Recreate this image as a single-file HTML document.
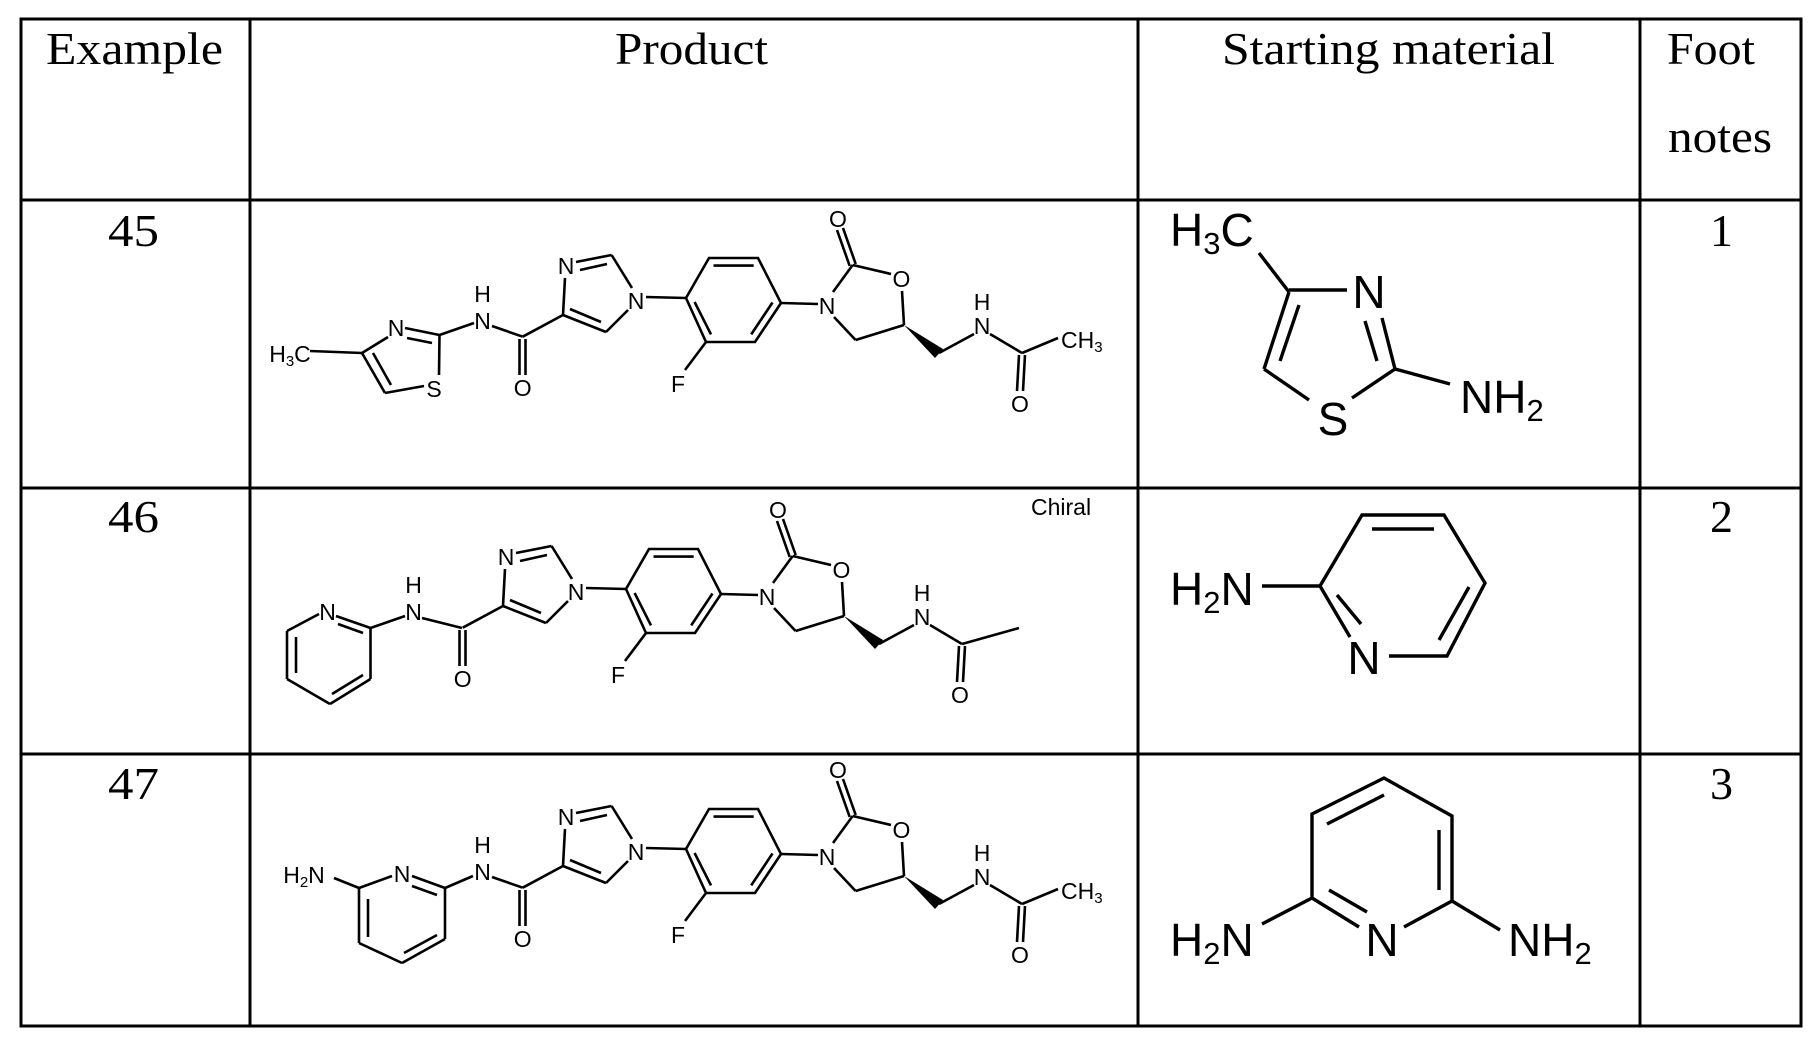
<!DOCTYPE html>
<html><head><meta charset="utf-8"><style>
html,body{margin:0;padding:0;background:#fff;}
svg{display:block;}
.h{font-family:"Liberation Serif",serif;font-size:46px;fill:#000;}
.a{font-family:"Liberation Sans",sans-serif;font-size:23px;fill:#000;text-anchor:middle;}
.s{font-family:"Liberation Sans",sans-serif;font-size:46px;fill:#000;}
.b line,.b polyline{stroke:#000;stroke-width:2.6;fill:none;}
.c line,.c polyline{stroke:#000;stroke-width:3.4;fill:none;}
</style></head><body>
<svg width="1820" height="1046" viewBox="0 0 1820 1046" xmlns="http://www.w3.org/2000/svg">
<rect width="1820" height="1046" fill="#fff"/>
<g stroke="#000" stroke-width="3" fill="none">
<rect x="21" y="19" width="1780" height="1007"/>
<line x1="250" y1="19" x2="250" y2="1026"/>
<line x1="1138" y1="19" x2="1138" y2="1026"/>
<line x1="1640" y1="19" x2="1640" y2="1026"/>
<line x1="21" y1="200" x2="1801" y2="200"/>
<line x1="21" y1="488" x2="1801" y2="488"/>
<line x1="21" y1="754" x2="1801" y2="754"/>
</g>
<text class="h" x="46" y="64" textLength="177" lengthAdjust="spacingAndGlyphs">Example</text>
<text class="h" x="615" y="64" textLength="153" lengthAdjust="spacingAndGlyphs">Product</text>
<text class="h" x="1222" y="64" textLength="333" lengthAdjust="spacingAndGlyphs">Starting material</text>
<text class="h" x="1667" y="64" textLength="88" lengthAdjust="spacingAndGlyphs">Foot</text>
<text class="h" x="1668" y="152" textLength="104" lengthAdjust="spacingAndGlyphs">notes</text>
<text class="h" x="108" y="246" textLength="51" lengthAdjust="spacingAndGlyphs">45</text>
<text class="h" x="108" y="532" textLength="51" lengthAdjust="spacingAndGlyphs">46</text>
<text class="h" x="108" y="799" textLength="51" lengthAdjust="spacingAndGlyphs">47</text>
<text class="h" x="1710" y="246">1</text>
<text class="h" x="1710" y="532">2</text>
<text class="h" x="1710" y="799">3</text>

<defs>
<g id="core">
 <g class="b">
  <line x1="522.7" y1="336.7" x2="563" y2="315"/>
  <line x1="519.5" y1="339" x2="519.5" y2="375"/>
  <line x1="525.5" y1="339" x2="525.5" y2="375"/>
  <line x1="563" y1="315" x2="606" y2="332"/>
  <line x1="570" y1="309" x2="601" y2="322"/>
  <line x1="606" y1="332" x2="628" y2="310"/>
  <line x1="632" y1="288" x2="611.6" y2="255"/>
  <line x1="611.6" y1="255" x2="576" y2="262"/>
  <line x1="607" y1="264" x2="580" y2="270"/>
  <line x1="565" y1="278" x2="563" y2="315"/>
  <line x1="646" y1="297" x2="686" y2="298"/>
  <polyline points="686,298 706,342 755,342 781,303 758,258 709,258 686,298"/>
  <line x1="713.5" y1="265.6" x2="753.7" y2="265.6"/>
  <line x1="694.6" y1="302" x2="711" y2="334.4"/>
  <line x1="751.2" y1="334.4" x2="772.5" y2="302.5"/>
  <line x1="706" y1="342" x2="685" y2="370"/>
  <line x1="781" y1="303" x2="818" y2="304"/>
  <line x1="833" y1="292" x2="852.7" y2="265"/>
  <line x1="849.7" y1="266" x2="837" y2="230"/>
  <line x1="855.7" y1="264" x2="843" y2="228"/>
  <line x1="852.7" y1="265" x2="891" y2="274"/>
  <line x1="902" y1="291" x2="904" y2="325"/>
  <line x1="904" y1="325" x2="855.6" y2="340"/>
  <line x1="855.6" y1="340" x2="834" y2="317"/>
  <line x1="939" y1="353" x2="974" y2="334"/>
  <line x1="990" y1="334" x2="1022" y2="353"/>
  <line x1="1019" y1="355" x2="1017" y2="391"/>
  <line x1="1025" y1="355" x2="1023" y2="391"/>
 </g>
 <polygon points="904,325 935,358 943,349" fill="#000"/>
 <text class="a" x="522.7" y="396">O</text>
 <text class="a" x="636" y="309">N</text>
 <text class="a" x="566" y="274">N</text>
 <text class="a" x="678" y="392">F</text>
 <text class="a" x="827" y="314">N</text>
 <text class="a" x="838" y="227">O</text>
 <text class="a" x="901.5" y="287">O</text>
 <text class="a" x="982" y="334">N</text>
 <text class="a" x="982" y="310">H</text>
 <text class="a" x="1020" y="412">O</text>
</g>
<g id="nh">
 <text class="a" x="482.5" y="329">N</text>
 <text class="a" x="482.5" y="302">H</text>
 <line x1="492" y1="326" x2="522.7" y2="336.7" stroke="#000" stroke-width="2.6"/>
</g>
</defs>

<!-- Row 45 -->
<use href="#core"/>
<use href="#nh"/>
<g class="b">
 <line x1="1022" y1="353" x2="1058" y2="338"/>
 <line x1="310" y1="351" x2="362" y2="353"/>
 <line x1="362" y1="353" x2="388" y2="337"/>
 <line x1="362" y1="353" x2="385" y2="393"/>
 <line x1="373" y1="353" x2="391" y2="385"/>
 <line x1="385" y1="393" x2="424" y2="386"/>
 <line x1="439" y1="375" x2="439.5" y2="335"/>
 <line x1="439.5" y1="335" x2="405" y2="328"/>
 <line x1="432" y1="343" x2="407" y2="338"/>
 <line x1="439.5" y1="335" x2="474" y2="323"/>
</g>
<text class="a" x="396" y="336">N</text>
<text class="a" x="434" y="397">S</text>
<text class="a" x="290" y="362">H<tspan font-size="15" dy="4">3</tspan><tspan dy="-4">C</tspan></text>
<text class="a" x="1061" y="348" style="text-anchor:start">CH<tspan font-size="15" dy="4">3</tspan></text>

<!-- Row 46 -->
<g transform="translate(-60,291)"><use href="#core"/>
 <line x1="1022" y1="353" x2="1079" y2="337" stroke="#000" stroke-width="2.6"/></g>
<text class="a" x="413.6" y="620">N</text>
<text class="a" x="413.6" y="593">H</text>
<text class="a" x="327.5" y="620">N</text>
<g class="b">
 <line x1="422" y1="618" x2="462" y2="628"/>
 <line x1="370.5" y1="628" x2="405" y2="616"/>
 <line x1="336" y1="616" x2="370.5" y2="628"/>
 <line x1="338" y1="624" x2="363" y2="633"/>
 <line x1="370.5" y1="628" x2="370.5" y2="679"/>
 <line x1="370.5" y1="679" x2="330" y2="704"/>
 <line x1="363" y1="675" x2="332" y2="694"/>
 <line x1="330" y1="704" x2="287" y2="679"/>
 <line x1="287" y1="679" x2="287" y2="631"/>
 <line x1="296" y1="673" x2="296" y2="637"/>
 <line x1="287" y1="631" x2="319" y2="614"/>
</g>
<text class="a" x="1031" y="515" style="text-anchor:start">Chiral</text>

<!-- Row 47 -->
<g transform="translate(0,551)"><use href="#core"/><use href="#nh"/>
 <line x1="1022" y1="353" x2="1058" y2="338" stroke="#000" stroke-width="2.6"/>
 <text class="a" x="1061" y="348" style="text-anchor:start">CH<tspan font-size="15" dy="4">3</tspan></text>
</g>
<text class="a" x="402" y="882">N</text>
<text class="a" x="304" y="883">H<tspan font-size="15" dy="4">2</tspan><tspan dy="-4">N</tspan></text>
<g class="b">
 <line x1="334" y1="878" x2="359" y2="888"/>
 <line x1="359" y1="888" x2="392" y2="876"/>
 <line x1="412" y1="876" x2="445" y2="888"/>
 <line x1="412" y1="886" x2="437" y2="895"/>
 <line x1="445" y1="888" x2="445" y2="939"/>
 <line x1="445" y1="939" x2="402" y2="963"/>
 <line x1="437" y1="935" x2="404" y2="953"/>
 <line x1="402" y1="963" x2="359" y2="943"/>
 <line x1="359" y1="943" x2="359" y2="888"/>
 <line x1="368" y1="937" x2="368" y2="899"/>
 <line x1="445" y1="888" x2="473" y2="876"/>
</g>

<!-- Starting materials -->
<g class="c">
 <line x1="1259" y1="253" x2="1289" y2="292"/>
 <line x1="1289" y1="290" x2="1347" y2="290"/>
 <line x1="1289" y1="292" x2="1264" y2="369"/>
 <line x1="1299" y1="305" x2="1280" y2="361"/>
 <line x1="1264" y1="369" x2="1309" y2="400"/>
 <line x1="1352" y1="398" x2="1395" y2="369"/>
 <line x1="1395" y1="369" x2="1382" y2="318"/>
 <line x1="1377" y1="361" x2="1365" y2="321"/>
 <line x1="1395" y1="369" x2="1450" y2="384"/>

 <line x1="1262" y1="586" x2="1320" y2="586"/>
 <polyline points="1350,637 1320,586 1362,515 1444,515 1485,583 1447,656 1389,656"/>
 <line x1="1372" y1="529" x2="1434" y2="529"/>
 <line x1="1469" y1="587" x2="1439" y2="640"/>
 <line x1="1337" y1="595" x2="1361" y2="624"/>

 <polyline points="1359,927 1312,898 1312,814 1384,778 1452,816 1452,901 1404,927"/>
 <line x1="1327" y1="824" x2="1384" y2="795"/>
 <line x1="1439" y1="830" x2="1439" y2="890"/>
 <line x1="1329" y1="890" x2="1367" y2="912"/>
 <line x1="1262" y1="924" x2="1312" y2="898"/>
 <line x1="1452" y1="901" x2="1500" y2="930"/>
</g>
<text class="s" x="1170" y="246">H<tspan font-size="31" dy="8">3</tspan><tspan dy="-8">C</tspan></text>
<text class="s" x="1369" y="308" text-anchor="middle">N</text>
<text class="s" x="1333" y="435" text-anchor="middle">S</text>
<text class="s" x="1460" y="413">NH<tspan font-size="31" dy="8">2</tspan></text>
<text class="s" x="1170" y="605">H<tspan font-size="31" dy="8">2</tspan><tspan dy="-8">N</tspan></text>
<text class="s" x="1364" y="674" text-anchor="middle">N</text>
<text class="s" x="1170" y="956">H<tspan font-size="31" dy="8">2</tspan><tspan dy="-8">N</tspan></text>
<text class="s" x="1382" y="956" text-anchor="middle">N</text>
<text class="s" x="1508" y="956">NH<tspan font-size="31" dy="8">2</tspan></text>
</svg>
</body></html>
